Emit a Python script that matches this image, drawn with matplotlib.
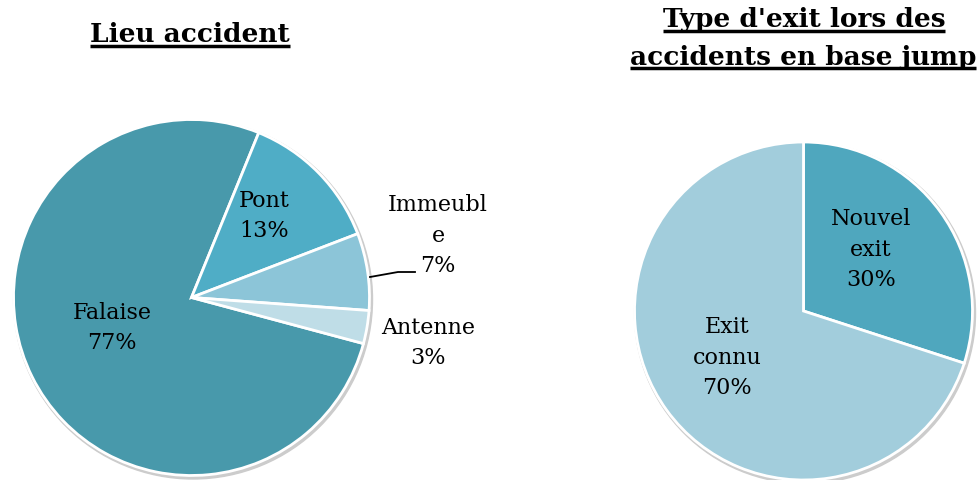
import matplotlib.pyplot as plt
from matplotlib.patches import Circle

# données
lieux = ['Falaise', 'Pont', 'Immeuble', 'Antenne']
lieux_pct = [77, 13, 7, 3]
lieux_txt = ['Falaise\n77%', 'Pont\n13%', 'Immeubl\ne\n7%', 'Antenne\n3%']
lieux_col = ['#4899AB', '#4FADC6', '#8CC5D8', '#BFDDE7']

exits = ['Nouvel exit', 'Exit connu']
exits_pct = [30, 70]
exits_txt = ['Nouvel\nexit\n30%', 'Exit\nconnu\n70%']
exits_col = ['#4FA7BE', '#A2CDDC']

W, H = 978, 481
FONT = 'DejaVu Serif'

fig = plt.figure(figsize=(W / 100, H / 100), dpi=100)
ax = fig.add_axes([0, 0, 1, 1])

def py(y):
    # pixel (haut -> bas) vers coordonnées données
    return H - y

# camembert de gauche
c1, r1 = (191.5, py(298.5)), 178
ax.add_patch(Circle((c1[0] + 1.5, c1[1] - 2), r1 + 1.5, color='#cccccc', zorder=0))
ax.pie(lieux_pct, colors=lieux_col, center=c1, radius=r1, startangle=-15,
       counterclock=False, wedgeprops=dict(edgecolor='white', linewidth=2))

# camembert de droite
c2, r2 = (803.5, py(312)), 169
ax.add_patch(Circle((c2[0] + 1.5, c2[1] - 2), r2 + 1.5, color='#cccccc', zorder=0))
ax.pie(exits_pct, colors=exits_col, center=c2, radius=r2, startangle=90,
       counterclock=False, wedgeprops=dict(edgecolor='white', linewidth=2))

ax.set_xlim(0, W)
ax.set_ylim(0, H)
ax.set_aspect('auto')
ax.axis('off')

# étiquettes
pos1 = [(112, 328), (264, 216), (438, 236), (428, 343)]
for t, (x, y) in zip(lieux_txt, pos1):
    ax.text(x, py(y), t, ha='center', va='center', fontsize=16, family=FONT,
            linespacing=1.5, color='black')
ax.plot([370, 398, 415], [py(278), py(273), py(273)], color='black', lw=1.3)

pos2 = [(871, 250), (727, 358)]
for t, (x, y) in zip(exits_txt, pos2):
    ax.text(x, py(y), t, ha='center', va='center', fontsize=16, family=FONT,
            linespacing=1.5, color='black')

# titres soulignés
titres = [('Lieu accident', 190, 35), ("Type d'exit lors des", 804, 20),
          ('accidents en base jump', 803, 57)]
objs = []
for t, x, y in titres:
    objs.append(ax.text(x, py(y), t, ha='center', va='center', fontsize=19,
                        family=FONT, fontweight='bold', color='black'))

fig.canvas.draw()
rend = fig.canvas.get_renderer()
inv = ax.transData.inverted()
for o in objs:
    bb = o.get_window_extent(rend)
    (x0, y0), (x1, y1) = inv.transform([(bb.x0, bb.y0), (bb.x1, bb.y1)])
    ax.plot([x0, x1], [y0 + 0.5, y0 + 0.5], color='black', lw=2.5,
            solid_capstyle='butt')

fig.savefig('out.png', dpi=100)
